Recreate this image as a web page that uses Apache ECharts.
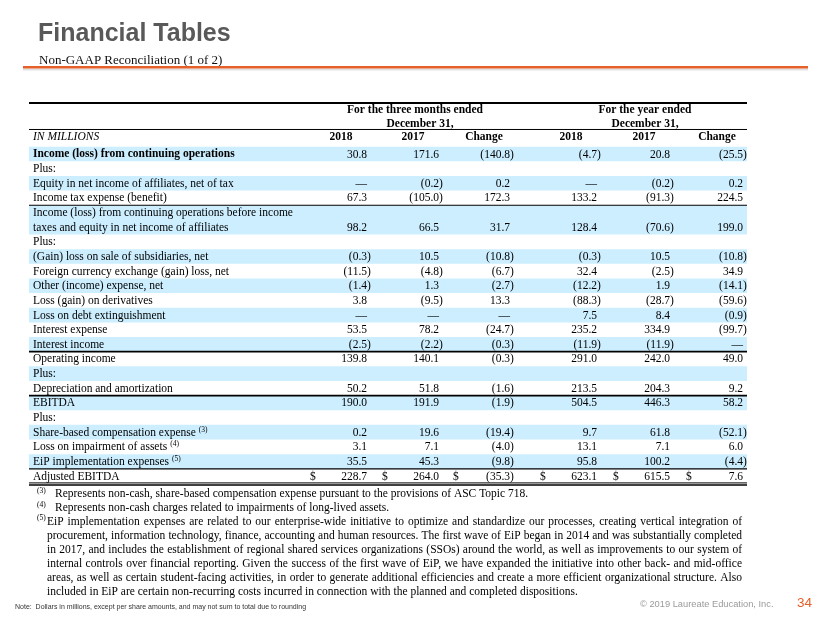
<!DOCTYPE html>
<html><head><meta charset="utf-8">
<script src="https://cdn.jsdelivr.net/npm/echarts@6/dist/echarts.min.js"></script>
<style>html,body{margin:0;padding:0;background:#fff}#c{width:830px;height:623px}</style>
</head><body><div id="c"></div>
<script>
// ---------------- data ----------------
const titleText = 'Financial Tables';
const subtitleText = 'Non-GAAP Reconciliation (1 of 2)';
const groupTitles = [['For the three months ended', 'December 31,'], ['For the year ended', 'December 31,']];
const colHeaders = ['2018', '2017', 'Change', '2018', '2017', 'Change'];
const unitHeader = 'IN MILLIONS';
const rowLabels = [
  'Income (loss) from continuing operations',
  'Plus:',
  'Equity in net income of affiliates, net of tax',
  'Income tax expense (benefit)',
  'Income (loss) from continuing operations before income\ntaxes and equity in net income of affiliates',
  'Plus:',
  '(Gain) loss on sale of subsidiaries, net',
  'Foreign currency exchange (gain) loss, net',
  'Other (income) expense, net',
  'Loss (gain) on derivatives',
  'Loss on debt extinguishment',
  'Interest expense',
  'Interest income',
  'Operating income',
  'Plus:',
  'Depreciation and amortization',
  'EBITDA',
  'Plus:',
  'Share-based compensation expense',
  'Loss on impairment of assets',
  'EiP implementation expenses',
  'Adjusted EBITDA'
];
const rowNotes = [null,null,null,null,null,null,null,null,null,null,null,null,null,null,null,null,null,null,'(3)','(4)','(5)',null];
// '' = blank cell, null = em dash
const q2018   = [30.8, '', null, 67.3, 98.2, '', -0.3, -11.5, -1.4, 3.8, null, 53.5, -2.5, 139.8, '', 50.2, 190.0, '', 0.2, 3.1, 35.5, 228.7];
const q2017   = [171.6, '', -0.2, -105.0, 66.5, '', 10.5, -4.8, 1.3, -9.5, null, 78.2, -2.2, 140.1, '', 51.8, 191.9, '', 19.6, 7.1, 45.3, 264.0];
const qChange = [-140.8, '', 0.2, 172.3, 31.7, '', -10.8, -6.7, -2.7, 13.3, null, -24.7, -0.3, -0.3, '', -1.6, -1.9, '', -19.4, -4.0, -9.8, -35.3];
const y2018   = [-4.7, '', null, 133.2, 128.4, '', -0.3, 32.4, -12.2, -88.3, 7.5, 235.2, -11.9, 291.0, '', 213.5, 504.5, '', 9.7, 13.1, 95.8, 623.1];
const y2017   = [20.8, '', -0.2, -91.3, -70.6, '', 10.5, -2.5, 1.9, -28.7, 8.4, 334.9, -11.9, 242.0, '', 204.3, 446.3, '', 61.8, 7.1, 100.2, 615.5];
const yChange = [-25.5, '', 0.2, 224.5, 199.0, '', -10.8, 34.9, -14.1, -59.6, -0.9, -99.7, null, 49.0, '', 9.2, 58.2, '', -52.1, 6.0, -4.4, 7.6];
const footnoteMarks = ['(3)', '(4)', '(5)'];
const footnoteLines = [
  'Represents non-cash, share-based compensation expense pursuant to the provisions of ASC Topic 718.',
  'Represents non-cash charges related to impairments of long-lived assets.',
  'EiP implementation expenses are related to our enterprise-wide initiative to optimize and standardize our processes, creating  vertical integration of',
  'procurement, information technology, finance, accounting and human resources. The first wave of EiP began in 2014 and was substantially completed',
  'in 2017, and includes the establishment of regional shared services organizations (SSOs) around the world, as well as improvements to our system of',
  'internal controls over financial reporting. Given the success of the first wave of EiP, we have expanded the initiative into other back- and mid-office',
  'areas, as well as certain student-facing activities, in order to generate additional efficiencies and create a more efficient organizational structure. Also',
  'included in EiP are certain non-recurring costs incurred in connection with the planned and completed dispositions.'
];
const noteText = 'Note:  Dollars in millions, except per share amounts, and may not sum to total due to rounding';
const copyrightText = '\u00A9 2019 Laureate Education, Inc.';
const pageNumber = '34';

// ---------------- layout / style ----------------
const SERIF = '"Liberation Serif", "Times New Roman", serif';
const SANS = '"Liberation Sans", Arial, sans-serif';
const FS = 11.5;
const F_REG = FS + 'px ' + SERIF;
const F_BOLD = 'bold ' + FS + 'px ' + SERIF;
const F_ITAL = 'italic ' + FS + 'px ' + SERIF;
const BAND = '#CCEEFF';
const TL = 29, TR = 747, LABEL_X = 33;
const anchors = [367, 439, 510, 597, 670, 743];
const groupCenters = [415, 645];
const boldRows = [0];
const dollarRow = 21;
const ruleAbove = {4: 1, 13: 1.8, 16: 1.8, 21: 1.2};
const ROW0_TOP = 146.7, PITCH = 14.64, Y_MIN = -4;

const mctx = document.createElement('canvas').getContext('2d');
function tw(t, font) { mctx.font = font; return mctx.measureText(t).width; }
function fmt(v) {
  if (v === null) return '\u2014';
  if (v < 0) return '(' + (-v).toFixed(1) + ')';
  return v.toFixed(1);
}
const cols = [q2018, q2017, qChange, y2018, y2017, yChange];
const rowSpan = rowLabels.map(s => s.split('\n').length);
const rowStart = [];
let acc = 0;
rowSpan.forEach(s => { rowStart.push(acc); acc += s; });
const totalUnits = acc;
const parenW = tw(')', F_REG);

function renderRow(params, api) {
  const i = api.value(0);
  const s = rowStart[i], sp = rowSpan[i];
  const top = api.coord([0, s])[1];
  const bot = api.coord([0, s + sp])[1];
  const unitH = (bot - top) / sp;
  const ch = [];
  if (i % 2 === 0) {
    ch.push({type: 'rect', shape: {x: api.coord([TL, 0])[0], y: top, width: api.coord([TR, 0])[0] - api.coord([TL, 0])[0], height: bot - top}, style: {fill: BAND}});
  }
  const lines = rowLabels[i].split('\n');
  const font = boldRows.indexOf(i) >= 0 ? F_BOLD : F_REG;
  lines.forEach((ln, j) => {
    ch.push({type: 'text', style: {text: ln, x: api.coord([LABEL_X, 0])[0], y: top + (j + 0.5) * unitH + 0.5, font: font, fill: '#000', align: 'left', verticalAlign: 'middle'}});
  });
  const vy = top + (sp - 0.5) * unitH + 0.5;
  if (rowNotes[i]) {
    const w = tw(lines[lines.length - 1], font);
    ch.push({type: 'text', style: {text: rowNotes[i], x: api.coord([LABEL_X, 0])[0] + w + 3, y: vy - 3, font: '7.5px ' + SERIF, fill: '#000', align: 'left', verticalAlign: 'middle'}});
  }
  cols.forEach((col, c) => {
    const v = col[i];
    if (v === '' || v === undefined) return;
    const x = api.coord([anchors[c], 0])[0] + ((v !== null && v < 0) ? parenW : 0);
    ch.push({type: 'text', style: {text: fmt(v), x: x, y: vy, font: F_REG, fill: '#000', align: 'right', verticalAlign: 'middle'}});
    if (i === dollarRow) {
      ch.push({type: 'text', style: {text: '$', x: api.coord([anchors[c] - 57, 0])[0], y: vy, font: F_REG, fill: '#000', align: 'left', verticalAlign: 'middle'}});
    }
  });
  const xl = api.coord([TL, 0])[0], xr = api.coord([TR, 0])[0];
  if (ruleAbove[i]) {
    ch.push({type: 'line', shape: {x1: xl, y1: top, x2: xr, y2: top}, style: {stroke: '#000', lineWidth: ruleAbove[i]}});
  }
  if (i === rowLabels.length - 1) {
    ch.push({type: 'line', shape: {x1: xl, y1: bot - 0.5, x2: xr, y2: bot - 0.5}, style: {stroke: '#000', lineWidth: 1}});
    ch.push({type: 'line', shape: {x1: xl, y1: bot + 1.6, x2: xr, y2: bot + 1.6}, style: {stroke: '#000', lineWidth: 1.6}});
  }
  return {type: 'group', children: ch};
}

function renderHeader(params, api) {
  const ch = [];
  const Y = u => api.coord([0, u])[1];
  const X = x => api.coord([x, 0])[0];
  ch.push({type: 'line', shape: {x1: X(TL), y1: Y(-2.985), x2: X(TR), y2: Y(-2.985)}, style: {stroke: '#000', lineWidth: 2}});
  groupTitles.forEach((g, k) => {
    ch.push({type: 'text', style: {text: g[0], x: X(groupCenters[k]), y: Y(-2.5), font: F_BOLD, fill: '#000', align: 'center', verticalAlign: 'middle'}});
    ch.push({type: 'text', style: {text: g[1], x: X(groupCenters[k] + (k === 0 ? 5 : 0)), y: Y(-1.55), font: F_BOLD, fill: '#000', align: 'center', verticalAlign: 'middle'}});
  });
  ch.push({type: 'line', shape: {x1: X(TL), y1: Y(-1.175), x2: X(TR), y2: Y(-1.175)}, style: {stroke: '#000', lineWidth: 1}});
  ch.push({type: 'text', style: {text: unitHeader, x: X(LABEL_X), y: Y(-0.663), font: F_ITAL, fill: '#000', align: 'left', verticalAlign: 'middle'}});
  colHeaders.forEach((h, c) => {
    ch.push({type: 'text', style: {text: h, x: X(anchors[c] - 26), y: Y(-0.663), font: F_BOLD, fill: '#000', align: 'center', verticalAlign: 'middle'}});
  });
  return {type: 'group', children: ch};
}

// ---------------- footnotes (justified) ----------------
const graphics = [];
const FN_FONT = FS + 'px ' + SERIF;
const fnY = [494, 508, 521.5, 535.5, 549.5, 563.5, 577.5, 591.5];
const fnRight = 742;
footnoteLines.forEach((line, k) => {
  let x0 = 47;
  if (k < 3) {
    graphics.push({type: 'text', x: 37, y: fnY[k] - 3, style: {text: footnoteMarks[k], font: '7.5px ' + SERIF, fill: '#000', verticalAlign: 'middle'}});
    x0 = k < 2 ? 55 : 47;
  }
  const justify = k >= 2 && k <= 6;
  if (!justify) {
    graphics.push({type: 'text', x: x0, y: fnY[k], style: {text: line, font: FN_FONT, fill: '#000', verticalAlign: 'middle'}});
  } else {
    const words = line.split(/\s+/);
    const widths = words.map(w => tw(w, FN_FONT));
    const total = widths.reduce((a, b) => a + b, 0);
    const gap = (fnRight - x0 - total) / (words.length - 1);
    let x = x0;
    words.forEach((w, j) => {
      graphics.push({type: 'text', x: x, y: fnY[k], style: {text: w, font: FN_FONT, fill: '#000', verticalAlign: 'middle'}});
      x += widths[j] + gap;
    });
  }
});
// title, subtitle, rule, footer
graphics.push({type: 'text', x: 38, y: 34, style: {text: titleText, font: 'bold 25px ' + SANS, fill: '#595959', verticalAlign: 'middle'}});
graphics.push({type: 'text', x: 39, y: 61, style: {text: subtitleText, font: '13px ' + SERIF, fill: '#111', verticalAlign: 'middle'}});
graphics.push({type: 'line', shape: {x1: 23, y1: 69.5, x2: 808, y2: 69.5}, style: {stroke: 'rgba(0,0,0,0.12)', lineWidth: 2}});
graphics.push({type: 'line', shape: {x1: 23, y1: 67.3, x2: 808, y2: 67.3}, style: {stroke: '#E5602A', lineWidth: 2.4}});
graphics.push({type: 'text', x: 15, y: 607, style: {text: noteText, font: '7px ' + SANS, fill: '#333', verticalAlign: 'middle'}});
graphics.push({type: 'text', x: 640, y: 604, style: {text: copyrightText, font: '9.3px ' + SANS, fill: '#9a9a9a', verticalAlign: 'middle'}});
graphics.push({type: 'text', x: 797, y: 603, style: {text: pageNumber, font: '13.5px ' + SANS, fill: '#E5602A', verticalAlign: 'middle'}});

const chart = echarts.init(document.getElementById('c'), null, {renderer: 'canvas'});
chart.setOption({
  animation: false,
  backgroundColor: '#fff',
  grid: {left: 0, right: 0, top: ROW0_TOP + Y_MIN * PITCH, height: (totalUnits - Y_MIN) * PITCH},
  xAxis: {type: 'value', min: 0, max: 830, show: false},
  yAxis: {type: 'value', min: Y_MIN, max: totalUnits, inverse: true, show: false},
  series: [
    {type: 'custom', silent: true, renderItem: renderRow, data: rowLabels.map((_, i) => [i]), encode: {y: 0}, clip: false},
    {type: 'custom', silent: true, renderItem: renderHeader, data: [[0]], clip: false}
  ],
  graphic: graphics
});
</script></body></html>
